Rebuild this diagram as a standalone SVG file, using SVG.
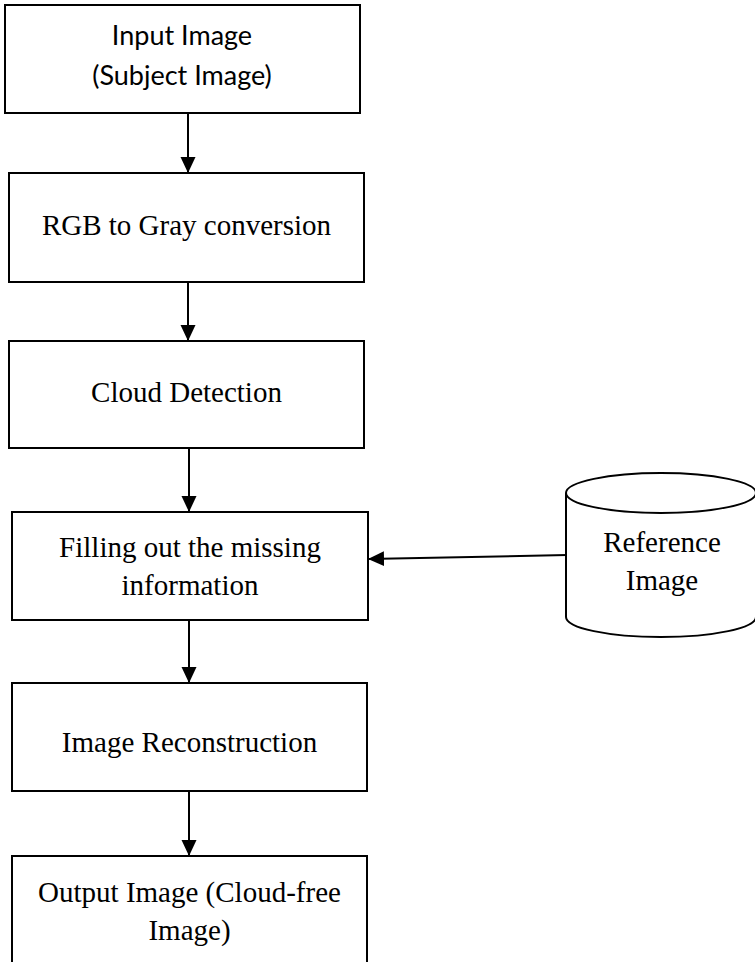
<svg xmlns="http://www.w3.org/2000/svg" width="755" height="962" viewBox="0 0 755 962">
<style>
.box{fill:#fff;stroke:#000;stroke-width:2}
.t{font-family:"Liberation Serif","Times New Roman",serif;font-size:29px;fill:#000;text-anchor:middle}
.s{font-family:Lato,"Open Sans",sans-serif;font-size:27px;fill:#000;text-anchor:middle}
.c{fill:none;stroke:#000;stroke-width:2}
</style>
<defs>
<marker id="ah" markerUnits="userSpaceOnUse" markerWidth="18" markerHeight="18" refX="16" refY="7.5" orient="auto">
<path d="M0,0 L16,7.5 L0,15 Z" fill="#000"/>
</marker>
</defs>
<rect width="755" height="962" fill="#fff"/>
<g id="connectors">
<line class="c" x1="188" y1="113" x2="188" y2="173" marker-end="url(#ah)"/>
<line class="c" x1="188" y1="280" x2="188" y2="341" marker-end="url(#ah)"/>
<line class="c" x1="189" y1="448" x2="189" y2="512" marker-end="url(#ah)"/>
<line class="c" x1="189" y1="620" x2="189" y2="683" marker-end="url(#ah)"/>
<line class="c" x1="189" y1="791" x2="189" y2="856" marker-end="url(#ah)"/>
<line class="c" x1="567" y1="555" x2="368" y2="559" marker-end="url(#ah)"/>
</g>
<g id="input">
<rect class="box" x="5" y="5" width="355" height="108"/>
<text class="s" x="182" y="45">Input Image</text>
<text class="s" x="182" y="85">(Subject Image)</text>
</g>
<g id="rgb2gray">
<rect class="box" x="9" y="173" width="355" height="109"/>
<text class="t" x="186.5" y="235">RGB to Gray conversion</text>
</g>
<g id="cloud">
<rect class="box" x="9" y="341" width="355" height="107"/>
<text class="t" x="186.5" y="402">Cloud Detection</text>
</g>
<g id="filling">
<rect class="box" x="12" y="512" width="356" height="108"/>
<text class="t" x="190" y="557">Filling out the missing</text>
<text class="t" x="190" y="595">information</text>
</g>
<g id="reference">
<path class="box" d="M566,493 L566,617 A95,20 0 0 0 756,617 L756,493"/>
<ellipse class="box" cx="661" cy="493" rx="95" ry="20"/>
<text class="t" x="662" y="552">Reference</text>
<text class="t" x="662" y="590">Image</text>
</g>
<g id="reconstruction">
<rect class="box" x="12" y="683" width="355" height="108"/>
<text class="t" x="189.5" y="752">Image Reconstruction</text>
</g>
<g id="output">
<rect class="box" x="12" y="856" width="355" height="120"/>
<text class="t" x="189.5" y="902">Output Image (Cloud-free</text>
<text class="t" x="189.5" y="940">Image)</text>
</g>
</svg>
